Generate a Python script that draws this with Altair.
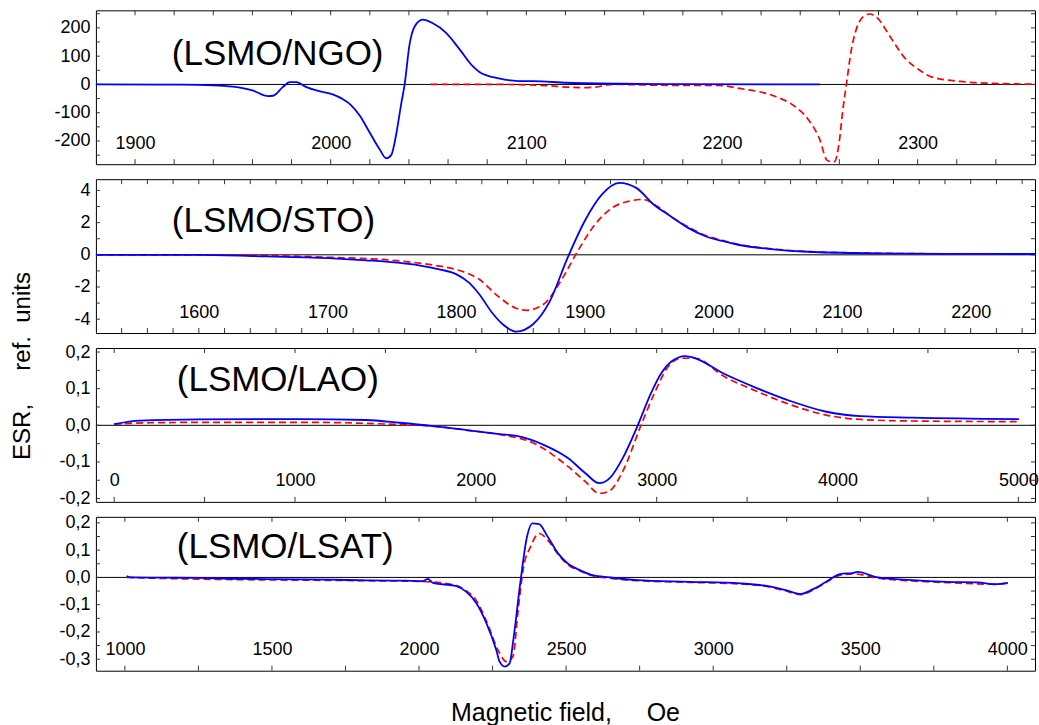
import altair as alt
import pandas as pd

FONT = "Liberation Sans"

# ---------------- data ----------------
# Panel 1: LSMO/NGO
ngo_field_blue = [1880, 1923, 1940, 1950, 1960, 1968, 1970.5, 1975.5, 1979, 1982.5, 1987.6, 1994, 2001,
                  2006, 2010, 2015, 2020, 2025, 2028.4, 2031, 2033.5, 2036, 2037.8, 2040.3, 2043, 2047,
                  2052, 2059, 2066, 2072.6, 2076, 2086, 2096, 2103.6, 2121, 2156.5, 2174, 2250]
ngo_esr_blue = [0, -1, -3, -8, -21, -41, -40, -9.5, 8, 8, -9.5, -23.5, -35,
                -51, -70.5, -112, -171, -229, -261, -249, -176, -70.5, 0, 141, 206, 229,
                217, 182, 123, 64.5, 44, 21, 12, 11.6, 5.9, 2, 1, 0]
ngo_field_red = [2051, 2086, 2110, 2121, 2128, 2135, 2144, 2174, 2198, 2209, 2226.7, 2237, 2244, 2249.6,
                 2254, 2257.5, 2260, 2261.7, 2263.6, 2266, 2268.9, 2272.4, 2275.5, 2279.4, 2286.4,
                 2293.4, 2300.5, 2307.5, 2321.6, 2335.6, 2360]
ngo_esr_red = [0, 0, -4, -9.5, -11, -9.5, 0, -3, -3, -14, -41, -76.5, -123, -188,
               -270, -273, -200, -94, 0, 117.5, 200, 241, 249, 235, 164,
               94, 53, 26, 10.6, 4.6, 1]

# Panel 2: LSMO/STO
sto_field_blue = [1520, 1600, 1652.5, 1704, 1730, 1756, 1771, 1787, 1800, 1810, 1818, 1828, 1836, 1846.7,
                  1860, 1873, 1886.7, 1900, 1913.4, 1926.7, 1940, 1953.5, 1966.7, 1980, 1993.4, 2006.8,
                  2020, 2046.8, 2073.5, 2127, 2180, 2250]
sto_esr_blue = [0, 0, -0.1, -0.22, -0.34, -0.5, -0.65, -0.9, -1.2, -1.73, -2.45, -3.6, -4.3, -4.77,
                -4.3, -2.86, -0.18, 2.1, 3.75, 4.47, 4.16, 3.13, 2.4, 1.69, 1.17, 0.86,
                0.61, 0.34, 0.19, 0.09, 0.06, 0.05]
sto_field_red = [1520, 1600, 1700, 1756, 1781.5, 1802, 1818, 1833, 1846, 1854.6, 1868, 1881.4, 1894.6,
                 1908, 1921.4, 1934.7, 1945.4, 1956, 1966.7, 1980, 1993.4, 2006.8, 2020, 2046.8, 2073.5,
                 2127, 2180, 2250]
sto_esr_red = [0, 0, -0.15, -0.38, -0.63, -0.96, -1.52, -2.6, -3.3, -3.45, -3.07, -1.62, 0.24,
               1.89, 2.92, 3.34, 3.44, 3.03, 2.4, 1.75, 1.22, 0.9, 0.64, 0.36, 0.2,
               0.1, 0.06, 0.05]

# Panel 3: LSMO/LAO
lao_field_blue = [0, 142, 474, 1027, 1394, 1579, 1763, 1947, 2131, 2226, 2378, 2511, 2606, 2682, 2739,
                  2816, 2892, 2968, 3025, 3081, 3158, 3214, 3367, 3557, 3747, 3938, 4128, 4413, 5003]
lao_esr_blue = [0.003, 0.0126, 0.0164, 0.017, 0.0145, 0.007, -0.002, -0.013, -0.024, -0.029, -0.054,
                -0.09, -0.131, -0.158, -0.145, -0.086, -0.004, 0.087, 0.142, 0.174, 0.189, 0.183,
                0.142, 0.101, 0.065, 0.037, 0.025, 0.021, 0.017]
lao_field_red = [0, 197, 500, 1100, 1579, 1763, 1947, 2131, 2321, 2511, 2606, 2682, 2739, 2816, 2910,
                 2987, 3063, 3139, 3214, 3367, 3557, 3747, 3938, 4128, 4413, 5000]
lao_esr_red = [0.003, 0.007, 0.008, 0.008, 0.002, -0.002, -0.013, -0.025, -0.049, -0.113, -0.154,
               -0.186, -0.179, -0.122, -0.004, 0.087, 0.160, 0.183, 0.183, 0.135, 0.092, 0.055,
               0.028, 0.016, 0.0118, 0.01]

# Panel 4: LSMO/LSAT
lsat_field_blue = [1006, 1020, 1141.6, 1250, 1368, 1480, 1594, 1700, 1821, 1950, 2013, 2030, 2047, 2127,
                   2161, 2195, 2229, 2262.6, 2274, 2291, 2308, 2320.6, 2344, 2367, 2385, 2408, 2437.5,
                   2472.5, 2507.5, 2542, 2589.6, 2648, 2741.5, 2917, 3092, 3186, 3244, 3297, 3338,
                   3384.5, 3431, 3478, 3490, 3560, 3676.5, 3794, 3900, 3957.6, 4002]
lsat_esr_blue = [0.005, 0.0, -0.001, -0.002, -0.005, -0.006, -0.007, -0.008, -0.011, -0.012, -0.014,
                 -0.005, -0.02, -0.032, -0.053, -0.095, -0.168, -0.266, -0.309, -0.327, -0.315,
                 -0.229, -0.022, 0.149, 0.198, 0.195, 0.149, 0.088, 0.049, 0.029, 0.008, 0.0,
                 -0.01, -0.016, -0.022, -0.032, -0.046, -0.061, -0.044, -0.016, 0.012, 0.017, 0.02,
                 0.0, -0.01, -0.016, -0.018, -0.025, -0.02]
lsat_field_red = [1006, 1141.6, 1368, 1594, 1821, 2013, 2127, 2161, 2195, 2229, 2274, 2296.5, 2319, 2338,
                  2355.5, 2379, 2408, 2437.5, 2472.5, 2507.5, 2542, 2589.6, 2648, 2741.5, 2917, 3092,
                  3186, 3244, 3297, 3338, 3384.5, 3431, 3478, 3560, 3676.5, 3794, 3957.6, 4002]
lsat_esr_red = [0.0, -0.004, -0.008, -0.01, -0.012, -0.015, -0.03, -0.05, -0.085, -0.16, -0.278, -0.309,
                -0.29, -0.108, 0.039, 0.112, 0.161, 0.137, 0.085, 0.045, 0.026, 0.006, -0.003, -0.012,
                -0.018, -0.024, -0.034, -0.049, -0.063, -0.047, -0.018, 0.008, 0.013, -0.003, -0.013,
                -0.019, -0.025, -0.022]

# axis labels and ticks
ngo_xlabels = [1900, 2000, 2100, 2200, 2300]
sto_xlabels = [1600, 1700, 1800, 1900, 2000, 2100, 2200]
lao_xlabels = [0, 1000, 2000, 3000, 4000, 5000]
lsat_xlabels = [1000, 1500, 2000, 2500, 3000, 3500, 4000]
ngo_ylabels = [200, 100, 0, -100, -200]
sto_ylabels = [4, 2, 0, -2, -4]
lao_ylabels = [0.2, 0.1, 0, -0.1, -0.2]
lsat_ylabels = [0.2, 0.1, 0, -0.1, -0.2, -0.3]

ngo_xticks = list(range(1900, 2360, 20))
sto_xticks = list(range(1540, 2250, 20))
lao_xticks = list(range(0, 5001, 500))
lsat_xticks = list(range(1000, 4001, 250))
ngo_yticks = [-250, -200, -150, -100, -50, 0, 50, 100, 150, 200, 250]
sto_yticks = [-4, -3, -2, -1, 0, 1, 2, 3, 4]
lao_yticks = [-0.2, -0.15, -0.1, -0.05, 0, 0.05, 0.1, 0.15, 0.2]
lsat_yticks = [-0.3, -0.25, -0.2, -0.15, -0.1, -0.05, 0, 0.05, 0.1, 0.15, 0.2]

titles = ["(LSMO/NGO)", "(LSMO/STO)", "(LSMO/LAO)", "(LSMO/LSAT)"]
y_title = "ESR,\u00a0\u00a0\u00a0\u00a0 ref.\u00a0\u00a0units"
x_title = "Magnetic field,\u00a0\u00a0\u00a0\u00a0 Oe"

W, H = 940, 154


def panel(xb, yb, xr, yr, xdom, ydom, xlabels, xticks, ylabels, yticks, label, lx, ly, comma, extra=None):
    x_enc = alt.X("x:Q", title=None,
                  scale=alt.Scale(domain=xdom, nice=False, zero=False),
                  axis=alt.Axis(values=xlabels, format="d", labelPadding=-21, labelBaseline="middle",
                                ticks=False, tickSize=0, domain=False, grid=False, labelFontSize=18,
                                labelFont=FONT, labelColor="black", labelOverlap=False, labelFlush=False))
    if comma:
        lexpr = "datum.value == 0 ? '0,0' : replace('' + datum.value, '.', ',')"
    else:
        lexpr = "'' + datum.value"
    y_enc = alt.Y("y:Q", title=None,
                  scale=alt.Scale(domain=ydom, nice=False, zero=False),
                  axis=alt.Axis(values=ylabels, labelExpr=lexpr, labelPadding=6, ticks=False, tickSize=0,
                                domain=False, grid=False, labelFontSize=18, labelFont=FONT,
                                labelColor="black", labelOverlap=False, labelFlush=False))
    blue = pd.DataFrame({"x": xb, "y": yb})
    red = pd.DataFrame({"x": xr, "y": yr})
    xt = pd.DataFrame({"x": xticks})
    yt = pd.DataFrame({"y": yticks})
    layers = [
        alt.Chart(pd.DataFrame({"y": [0]})).mark_rule(color="black", strokeWidth=1).encode(y=y_enc),
        alt.Chart(xt).mark_rule(color="#333333").encode(x=x_enc, y=alt.value(0), y2=alt.value(5)),
        alt.Chart(xt).mark_rule(color="#333333").encode(x=x_enc, y=alt.value(H), y2=alt.value(H - 5)),
        alt.Chart(yt).mark_rule(color="#333333").encode(y=y_enc, x=alt.value(0), x2=alt.value(4)),
        alt.Chart(yt).mark_rule(color="#333333").encode(y=y_enc, x=alt.value(W), x2=alt.value(W - 4)),
        alt.Chart(red).mark_line(color="#ff0000", strokeWidth=1.7, strokeDash=[7, 4], clip=True,
                                 interpolate="monotone")
        .encode(x=x_enc, y=y_enc, order="x:Q"),
        alt.Chart(blue).mark_line(color="#0000ff", strokeWidth=1.8, clip=True, interpolate="monotone")
        .encode(x=x_enc, y=y_enc, order="x:Q"),
        alt.Chart(pd.DataFrame({"t": [label]})).mark_text(align="left", baseline="middle", fontSize=35,
                                                          font=FONT, color="black")
        .encode(x=alt.value(lx), y=alt.value(ly), text="t:N"),
    ]
    if extra is not None:
        layers.extend(extra)
    return alt.layer(*layers).properties(width=W, height=H)


ytitle_layer = alt.Chart(pd.DataFrame({"t": [y_title]})).mark_text(
    angle=270, align="center", baseline="middle", fontSize=24, font=FONT, color="black"
).encode(x=alt.value(-73), y=alt.value(18), text="t:N")

xtitle_layer = alt.Chart(pd.DataFrame({"t": [x_title]})).mark_text(
    align="center", baseline="middle", fontSize=25, font=FONT, color="black"
).encode(x=alt.value(470), y=alt.value(196), text="t:N")

p1 = panel(ngo_field_blue, ngo_esr_blue, ngo_field_red, ngo_esr_red, [1880, 2360], [-282, 262],
           ngo_xlabels, ngo_xticks, ngo_ylabels, ngo_yticks, titles[0], 76, 44, False)
p2 = panel(sto_field_blue, sto_esr_blue, sto_field_red, sto_esr_red, [1520, 2250], [-4.86, 4.70],
           sto_xlabels, sto_xticks, sto_ylabels, sto_yticks, titles[1], 76, 42, False)
p3 = panel(lao_field_blue, lao_esr_blue, lao_field_red, lao_esr_red, [-101, 5092], [-0.209, 0.211],
           lao_xlabels, lao_xticks, lao_ylabels, lao_yticks, titles[2], 81, 32, True, [ytitle_layer])
p4 = panel(lsat_field_blue, lsat_esr_blue, lsat_field_red, lsat_esr_red, [901.5, 4094], [-0.342, 0.222],
           lsat_xlabels, lsat_xticks, lsat_ylabels, lsat_yticks, titles[3], 81, 30, True, [xtitle_layer])

chart = alt.vconcat(p1, p2, p3, p4, spacing=15, bounds="flush").properties(
    padding={"left": 10, "top": 9, "right": 0, "bottom": 0},
    background="white",
).configure_view(stroke="black", strokeWidth=1)

chart.save("out.html", embed_options={"renderer": "svg", "actions": False})
